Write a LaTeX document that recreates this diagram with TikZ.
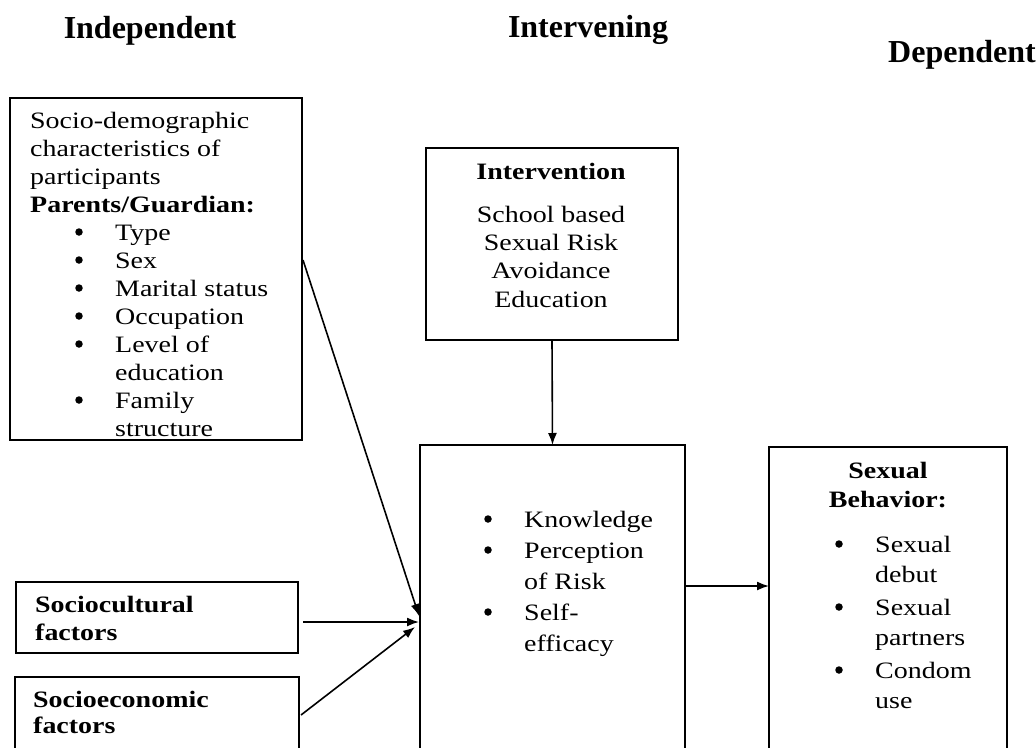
\documentclass[tikz,border=0pt]{standalone}
\usepackage{fontspec}
\setmainfont{Liberation Serif}
\newfontfamily\bodyf[FakeStretch=1.19]{Liberation Serif}
\usetikzlibrary{arrows.meta,calc}
\begin{document}
\begin{tikzpicture}[x=1pt,y=-1pt,
  box/.style={draw, line width=2.6pt, inner sep=0pt, outer sep=0pt, anchor=north west},
  sbox/.style={draw, line width=1.6pt, inner sep=0pt, outer sep=0pt, anchor=north west},
  txt/.style={inner sep=0pt, anchor=base west, font=\bodyf\fontsize{23.5}{28}\selectfont},
  ctxt/.style={txt, anchor=base},
  btxt/.style={txt, font=\bodyf\bfseries\fontsize{23.5}{28}\selectfont},
  cbtxt/.style={btxt, anchor=base},
  bul/.style={circle, fill=black, inner sep=0pt, minimum size=7.5pt},
  head/.style={inner sep=0pt, anchor=base, font=\bfseries\fontsize{32}{36}\selectfont},
  arr/.style={line width=1.6pt, -{Latex[length=12pt,width=9pt]}}
]
\useasboundingbox (0,0) rectangle (1036,747);
\fill[white] (0,0) rectangle (1036,747);

% headers
\node[head] (hInd) at (150,38) {Independent};
\node[head] (hInt) at (588,37) {Intervening};
\node[head] (hDep) at (962,62) {Dependent};

% boxes
\node[box, minimum width=292pt, minimum height=342pt] (sd) at (10,98) {};
\node[box, minimum width=252pt, minimum height=192pt] (iv) at (426,148) {};
\node[box, minimum width=265pt, minimum height=340pt] (mid) at (420,445) {};
\node[box, minimum width=238pt, minimum height=340pt] (sb) at (769,447) {};
\node[sbox, minimum width=282pt, minimum height=71pt] (sc) at (16,582) {};
\node[sbox, minimum width=284pt, minimum height=110pt] (se) at (15,677) {};

% socio-demographic box text
\node[txt] (sd1) at (30,128) {Socio-demographic};
\node[txt] (sd2) at (30,156) {characteristics of};
\node[txt] (sd3) at (30,184) {participants};
\node[btxt] (sd4) at (30,212) {Parents/Guardian:};
\foreach \yy/\t [count=\i] in {240/Type, 268/Sex, 296/Marital status, 324/Occupation, 352/Level of, 408/Family}
  {\node[bul] (sdb\i) at (79,\yy-8) {};
   \node[txt] (sdi\i) at (115,\yy) {\t};}
\node[txt] (sdc1) at (115,380) {education};
\node[txt] (sdc2) at (115,436) {structure};

% intervention box text
\node[cbtxt] (iv1) at (551,179) {Intervention};
\node[ctxt] (iv2) at (551,222) {School based};
\node[ctxt] (iv3) at (551,250) {Sexual Risk};
\node[ctxt] (iv4) at (551,278) {Avoidance};
\node[ctxt] (iv5) at (551,307) {Education};

% middle box text
\foreach \yy/\t [count=\i] in {527/Knowledge, 558/Perception, 620/Self-}
  {\node[bul] (mb\i) at (488,\yy-8) {};
   \node[txt] (mi\i) at (524,\yy) {\t};}
\node[txt] (mc1) at (524,589) {of Risk};
\node[txt] (mc2) at (524,651) {efficacy};

% sexual behaviour box text
\node[cbtxt] (sb1) at (888,478) {Sexual};
\node[cbtxt] (sb2) at (888,507) {Behavior:};
\foreach \yy/\t [count=\i] in {552/Sexual, 615/Sexual, 678/Condom}
  {\node[bul] (sbb\i) at (839,\yy-8) {};
   \node[txt] (sbi\i) at (875,\yy) {\t};}
\node[txt] (sbc1) at (875,582) {debut};
\node[txt] (sbc2) at (875,645) {partners};
\node[txt] (sbc3) at (875,708) {use};

% small boxes text
\node[btxt] (sc1) at (35,612) {Sociocultural};
\node[btxt] (sc2) at (35,640) {factors};
\node[btxt] (se1) at (33,707) {Socioeconomic};
\node[btxt] (se2) at (33,733) {factors};

% connector end points
\coordinate (sdOut) at ($(sd.north east)+(1,162)$);
\coordinate (scOut) at ($(sc.north east)+(5,40)$);
\coordinate (seOut) at ($(se.north west)+(286,38)$);
\coordinate (hubA) at ($(mid.north west)+(-1,171)$);
\coordinate (hubB) at ($(mid.north west)+(-1,177)$);
\coordinate (hubC) at ($(mid.north west)+(-5,182)$);
\coordinate (midOut) at ($(mid.north east)+(0,141)$);
\coordinate (sbIn) at ($(sb.north west)+(0,139)$);

% connectors
\draw[arr] (sdOut) -- (hubA);
\draw[arr] (scOut) -- (hubB);
\draw[arr] (seOut) -- (hubC);
\draw[arr] (iv.south) -- (mid.north);
\draw[arr] (midOut) -- (sbIn);
\end{tikzpicture}
\end{document}
